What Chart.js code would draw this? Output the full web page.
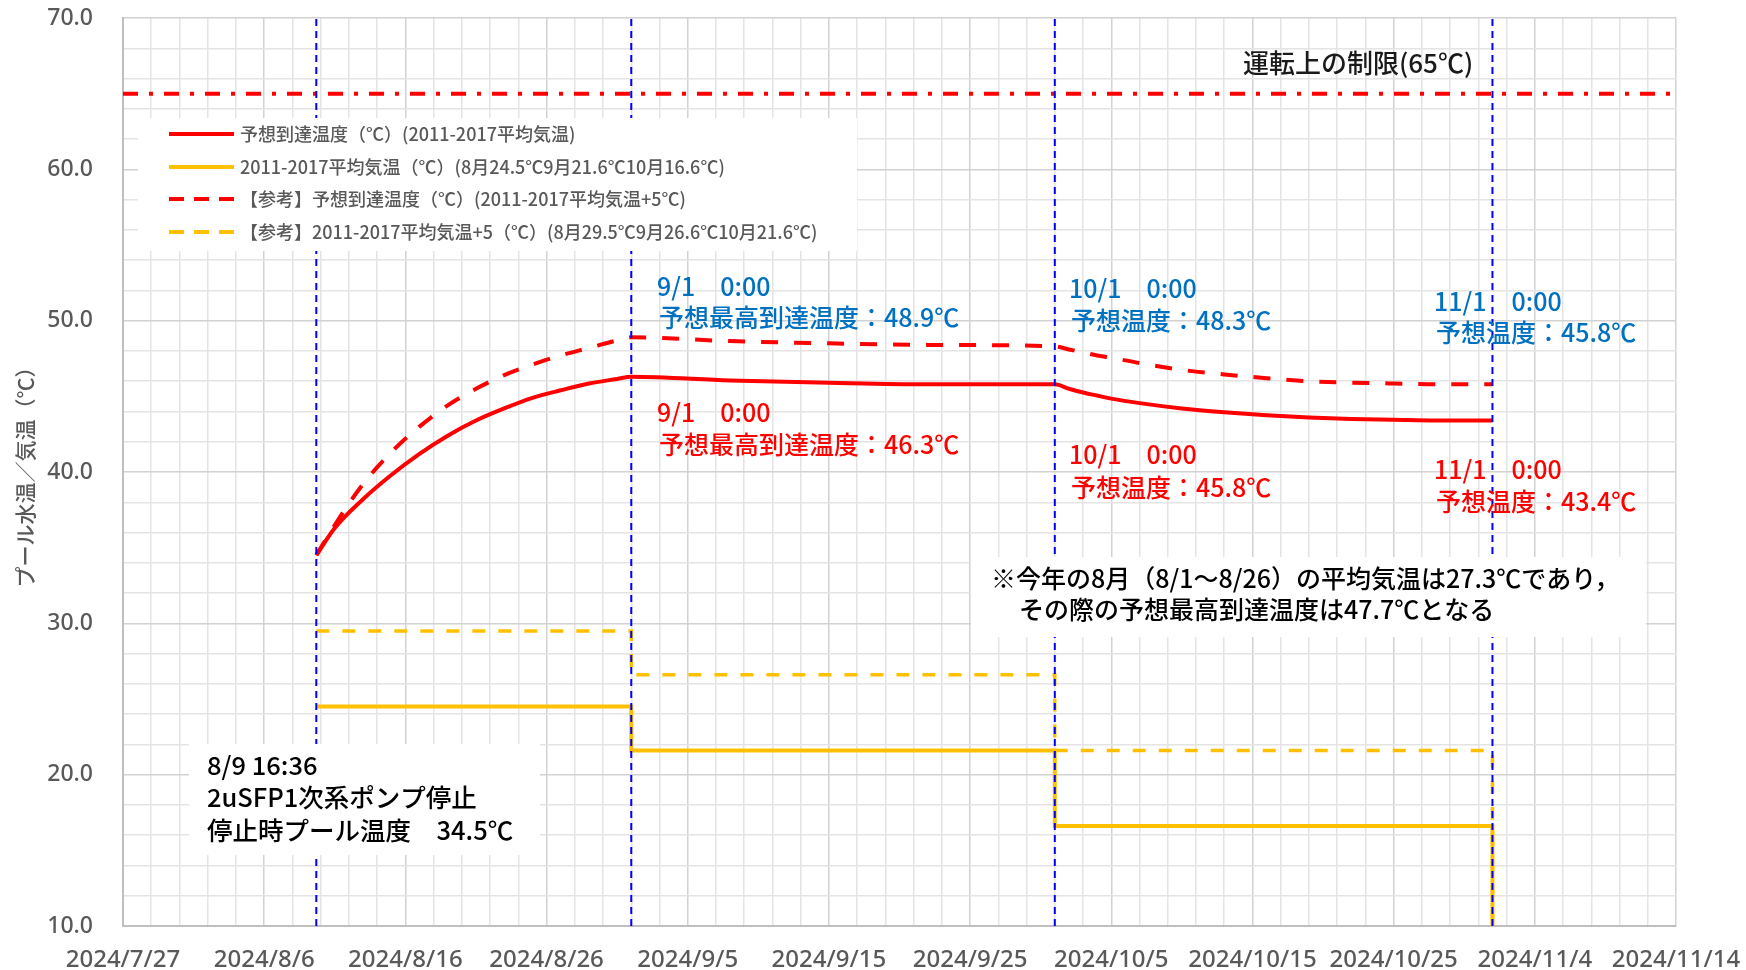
<!DOCTYPE html>
<html><head><meta charset="utf-8">
<script src="https://cdn.jsdelivr.net/npm/chart.js@4.4.1/dist/chart.umd.min.js"></script>
<style>html,body{margin:0;padding:0;background:#fff;}#wrap{width:1746px;height:970px;position:relative;}</style>
</head><body><div id="wrap"><canvas id="c"></canvas></div>
<script>
// ---------- data ----------
const axisStart = '2024-07-27';
const axisEnd = '2024-11-14';
const legendLabels = [
  '予想到達温度（℃）(2011-2017平均気温)',
  '2011-2017平均気温（℃）(8月24.5℃9月21.6℃10月16.6℃)',
  '【参考】予想到達温度（℃）(2011-2017平均気温+5℃)',
  '【参考】2011-2017平均気温+5（℃）(8月29.5℃9月26.6℃10月21.6℃)'
];
const forecastDates = ['2024-08-09 16:36','2024-08-11','2024-08-13','2024-08-15','2024-08-17','2024-08-19','2024-08-21','2024-08-23','2024-08-25','2024-08-27','2024-08-29','2024-08-31','2024-09-01',
  '2024-09-08','2024-09-15','2024-09-22','2024-10-01','2024-10-02','2024-10-03','2024-10-04','2024-10-05','2024-10-07','2024-10-10','2024-10-13','2024-10-16','2024-10-19','2024-10-22','2024-10-25','2024-10-28','2024-11-01'];
const forecastTemps = [34.5,36.3,38.2,39.8,41.2,42.4,43.4,44.2,44.9,45.4,45.85,46.15,46.3,
  46.05,45.9,45.8,45.8,45.5,45.25,45.05,44.85,44.55,44.2,43.95,43.75,43.6,43.5,43.45,43.4,43.4];
const forecastPlus5Temps = [34.5,36.5,39.2,41.3,43.0,44.4,45.5,46.4,47.1,47.7,48.2,48.7,48.9,
  48.65,48.5,48.4,48.3,48.1,47.9,47.7,47.55,47.2,46.75,46.45,46.2,46.0,45.9,45.85,45.8,45.8];
const airTempDates = ['2024-08-09 16:36','2024-09-01','2024-09-01','2024-10-01','2024-10-01','2024-11-01','2024-11-01'];
const airTemps = [24.5,24.5,21.6,21.6,16.6,16.6,0];
const airTempPlus5Temps = [29.5,29.5,26.6,26.6,21.6,21.6,0];
const limitDates = ['2024-07-27','2024-11-14'];
const limitTemps = [65,65];
const markerDates = ['2024-08-09 16:36','2024-09-01','2024-10-01','2024-11-01'];
const markerSpan = [10,70];
const yTicks = [10,20,30,40,50,60,70];

const limitText = '運転上の制限(65℃)';
const blueNotes = [['9/1　0:00','予想最高到達温度：48.9℃'],['10/1　0:00','予想温度：48.3℃'],['11/1　0:00','予想温度：45.8℃']];
const redNotes  = [['9/1　0:00','予想最高到達温度：46.3℃'],['10/1　0:00','予想温度：45.8℃'],['11/1　0:00','予想温度：43.4℃']];
const noteLines = ['※今年の8月（8/1～8/26）の平均気温は27.3℃であり，','その際の予想最高到達温度は47.7℃となる'];
const stopLines = ['8/9 16:36','2uSFP1次系ポンプ停止','停止時プール温度　34.5℃'];

// ---------- helpers ----------
const DAY0 = Date.UTC(2024,6,27);
function toDay(s){const [d,t]=s.split(' ');const [Y,M,D]=d.split('-').map(Number);let h=0,mi=0;if(t){[h,mi]=t.split(':').map(Number);}return (Date.UTC(Y,M-1,D,h,mi)-DAY0)/86400000;}
function pts(dates, vals){return dates.map((d,i)=>({x:toDay(d),y:vals[i]}));}
function fmtDay(v){const dt=new Date(DAY0+v*86400000);return dt.getUTCFullYear()+'/'+(dt.getUTCMonth()+1)+'/'+dt.getUTCDate();}

const RED='#ff0000', ORANGE='#ffc000', BLUE='#0000ff';
const CJK='"Noto Sans CJK JP", "Noto Sans", sans-serif';

const datasets = [
  {label:legendLabels[0],data:pts(forecastDates,forecastTemps),borderColor:RED,borderWidth:4,cubicInterpolationMode:'monotone',legend:true,order:3},
  {label:legendLabels[1],data:pts(airTempDates,airTemps),borderColor:ORANGE,borderWidth:4,tension:0,legend:true,order:5},
  {label:legendLabels[2],data:pts(forecastDates,forecastPlus5Temps),borderColor:RED,borderWidth:4,borderDash:[17,16],cubicInterpolationMode:'monotone',legend:true,order:4,legendDash:[15,10]},
  {label:legendLabels[3],data:pts(airTempDates,airTempPlus5Temps),borderColor:ORANGE,borderWidth:3.5,borderDash:[13,13],tension:0,legend:true,order:6,legendDash:[15,10]},
  {label:'limit',data:pts(limitDates,limitTemps),borderColor:RED,borderWidth:4,borderDash:[15,11,4,11],tension:0,order:2}
];
markerDates.forEach((d,i)=>{
  datasets.push({label:'marker'+i,data:[{x:toDay(d),y:markerSpan[0]},{x:toDay(d),y:markerSpan[1]}],borderColor:BLUE,borderWidth:2,borderDash:[7,5],tension:0,order:1});
});
datasets.forEach(ds=>{ds.pointRadius=0;ds.pointHoverRadius=0;ds.fill=false;});

const overlay = {
  id:'overlay',
  afterDatasetsDraw(chart){
    const ctx=chart.ctx;
    ctx.save();
    ctx.fillStyle='#fff';
    ctx.fillRect(138,118,719,133);
    ctx.fillRect(971,557,675,80);
    ctx.fillRect(189,744,351,111);
    const items = chart.data.datasets.filter(d=>d.legend);
    const ys=[134,167,199,232];
    ctx.textBaseline='middle';
    ctx.textAlign='left';
    items.forEach((ds,i)=>{
      ctx.beginPath();
      ctx.strokeStyle=ds.borderColor;
      ctx.lineWidth=4;
      ctx.setLineDash(ds.legendDash||[]);
      ctx.moveTo(169,ys[i]);ctx.lineTo(234,ys[i]);ctx.stroke();
      ctx.setLineDash([]);
      ctx.fillStyle='#595959';
      ctx.font='500 18px '+CJK;
      ctx.fillText(ds.label,240,ys[i]);
    });
    ctx.fillStyle='#1a1a1a';
    ctx.font='500 26px '+CJK;
    ctx.fillText(limitText,1243,63);
    const nx=[657,1069,1434];
    const by=[[286,317],[288,320],[301,332]];
    const ry=[[412,444],[454,487],[469,501]];
    ctx.font='500 25px '+CJK;
    blueNotes.forEach((n,i)=>{ctx.fillStyle='#0070c0';ctx.fillText(n[0],nx[i],by[i][0]);ctx.fillText(n[1],nx[i]+2,by[i][1]);});
    redNotes.forEach((n,i)=>{ctx.fillStyle=RED;ctx.fillText(n[0],nx[i],ry[i][0]);ctx.fillText(n[1],nx[i]+2,ry[i][1]);});
    ctx.fillStyle='#000';
    ctx.font='500 25px '+CJK;
    ctx.fillText(noteLines[0],991,578);
    ctx.fillText(noteLines[1],1019,609);
    ctx.font='500 25.5px '+CJK;
    ctx.fillText(stopLines[0],207,765);
    ctx.fillText(stopLines[1],207,797);
    ctx.fillText(stopLines[2],207,830);
    ctx.restore();
  }
};

new Chart(document.getElementById('c'),{
  type:'line',
  data:{datasets},
  options:{
    responsive:true,maintainAspectRatio:false,animation:false,
    layout:{padding:{left:0,right:70,top:18,bottom:0}},
    plugins:{legend:{display:false},tooltip:{enabled:false}},
    scales:{
      x:{type:'linear',min:toDay(axisStart),max:toDay(axisEnd),
        afterFit(s){s.height=44;s.paddingLeft=0;s.paddingRight=0;s.paddingTop=0;s.paddingBottom=0;},
        ticks:{stepSize:2,autoSkip:false,maxRotation:0,padding:20,color:'#595959',font:{family:'"Noto Sans", sans-serif',size:24,weight:'500'},
          callback:(v)=> (v%10===0)?fmtDay(v):''},
        grid:{drawTicks:false,lineWidth:1.5,color:(c)=>(c.tick&&c.tick.value%10===0)?'#d2d2d2':'#e4e4e4'},
        border:{color:'#bfbfbf',width:2}
      },
      y:{min:markerSpan[0],max:markerSpan[1],
        afterFit(s){s.width=123;s.paddingTop=0;s.paddingBottom=0;s.paddingLeft=0;s.paddingRight=0;},
        ticks:{stepSize:2,autoSkip:false,padding:30,color:'#595959',font:{family:'"Noto Sans", sans-serif',size:23,weight:'500'},
          callback:(v)=> yTicks.includes(v)?v.toFixed(1):''},
        grid:{drawTicks:false,lineWidth:1.5,color:(c)=>(c.tick&&c.tick.value%10===0)?'#d2d2d2':'#e4e4e4'},
        border:{color:'#bfbfbf',width:2},
        title:{display:true,text:'プール水温／気温（℃）',color:'#595959',font:{family:CJK,size:21,weight:'500'},padding:{top:12,bottom:0}}
      }
    }
  },
  plugins:[overlay]
});
</script></body></html>
